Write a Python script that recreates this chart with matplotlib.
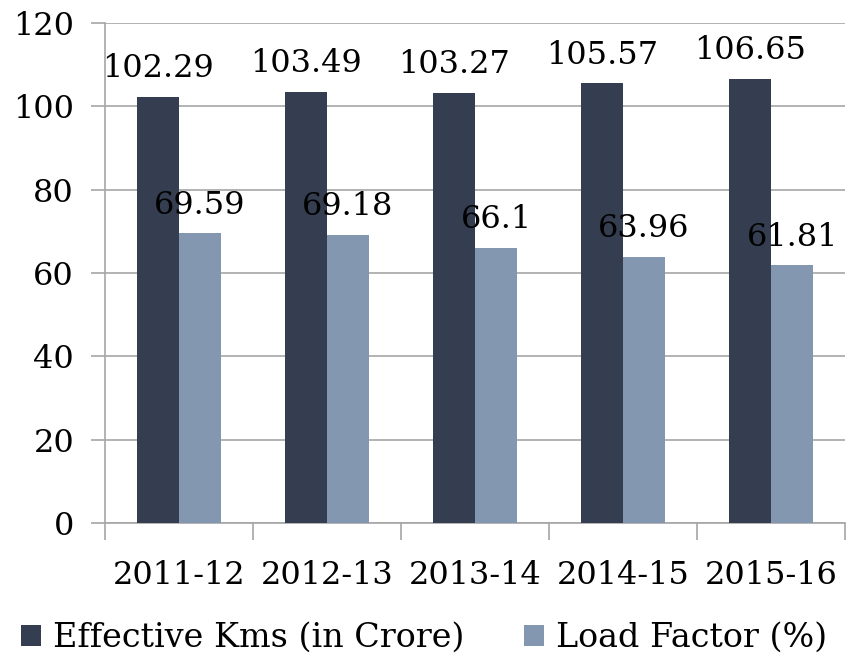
import matplotlib.pyplot as plt
import numpy as np

years = ["2011-12", "2012-13", "2013-14", "2014-15", "2015-16"]
eff_kms = [102.29, 103.49, 103.27, 105.57, 106.65]
load_factor = [69.59, 69.18, 66.1, 63.96, 61.81]
eff_labels = ["102.29", "103.49", "103.27", "105.57", "106.65"]
lf_labels = ["69.59", "69.18", "66.1", "63.96", "61.81"]

DARK = "#343e50"
LIGHT = "#8497b0"
GRID = "#a6a6a6"
FS = 23

plt.rcParams["font.family"] = ["DejaVu Serif"]

fig = plt.figure(figsize=(8.65, 6.61), dpi=100)
ax = fig.add_axes([0.121, 0.209, 0.856, 0.756])

x = np.arange(len(years))
w = 0.285
b1 = ax.bar(x - w / 2, eff_kms, w, color=DARK, label="Effective Kms (in Crore)", zorder=3)
b2 = ax.bar(x + w / 2, load_factor, w, color=LIGHT, label="Load Factor (%)", zorder=3)

for rect, lab in zip(b1, eff_labels):
    ax.text(rect.get_x() + rect.get_width() / 2, rect.get_height() + 3.0, lab,
            ha="center", va="bottom", fontsize=FS, color="black", zorder=4)
for rect, lab in zip(b2, lf_labels):
    ax.text(rect.get_x() + rect.get_width() / 2, rect.get_height() + 3.0, lab,
            ha="center", va="bottom", fontsize=FS, color="black", zorder=4)

ax.set_xlim(-0.5, len(years) - 0.5)
ax.set_ylim(0, 120)
ax.set_yticks(range(0, 121, 20))
ax.yaxis.grid(True, color=GRID, linewidth=1.2, zorder=0)
ax.tick_params(axis="y", length=10, color=GRID, width=1.2, labelsize=FS, pad=12)

ax.set_xticks(x)
ax.set_xticklabels(years)
ax.set_xticks(np.arange(-0.5, len(years), 1), minor=True)
ax.tick_params(axis="x", which="major", length=0, labelsize=FS, pad=27)
ax.tick_params(axis="x", which="minor", length=12, color=GRID, width=1.2)

for s in ["top", "right"]:
    ax.spines[s].set_visible(False)
for s in ["left", "bottom"]:
    ax.spines[s].set_color(GRID)
    ax.spines[s].set_linewidth(1.2)

fig.legend(handles=[b1, b2], loc="lower center", bbox_to_anchor=(0.49, -0.035),
           ncol=2, frameon=False, fontsize=24, handlelength=0.6, handleheight=0.6,
           handletextpad=0.35, columnspacing=1.8)

fig.savefig("out.png", dpi=100, facecolor="white")
